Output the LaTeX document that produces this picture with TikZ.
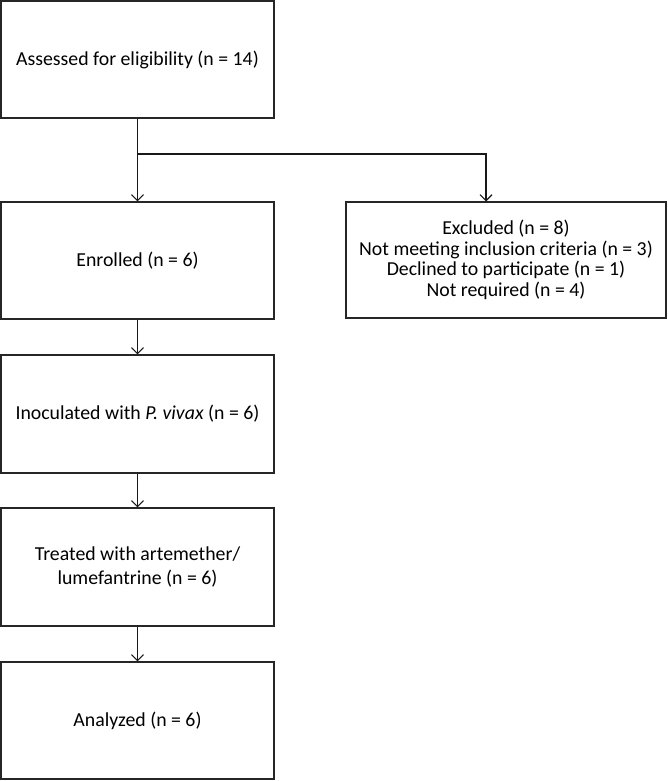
\documentclass[tikz,border=0pt]{standalone}
\usepackage{fontspec}
\setmainfont{Carlito}
\usetikzlibrary{arrows.meta}
\begin{document}
\begin{tikzpicture}[x=1pt,y=-1pt,
  box/.style={draw=black!85, line width=1.3pt, minimum width=273pt, minimum height=117pt,
    inner sep=0pt, align=center, font=\fontsize{19.8}{22}\selectfont},
  arr/.style={draw=black!90, line width=1.2pt, -{Straight Barb[length=6pt,width=12pt,line width=1.1pt]}}]
\useasboundingbox (0,0) rectangle (667,781);
\node[box] (b1) at (137.5,59.5) {Assessed for eligibility (n = 14)};
\node[box] (b2) at (137.5,260.5) {Enrolled (n = 6)};
\node[box, minimum width=320pt, minimum height=116pt, font=\fontsize{19.8}{20.6}\selectfont] (ex) at (506,260)
  {Excluded (n = 8)\\Not meeting inclusion criteria (n = 3)\\Declined to participate (n = 1)\\Not required (n = 4)};
\node[box, minimum height=118pt] (b3) at (137.5,414) {Inoculated with \textit{P. vivax} (n = 6)};
\node[box, minimum height=118pt, font=\fontsize{19.8}{23.3}\selectfont] (b4) at (137.5,567) {Treated with artemether/\\lumefantrine (n = 6)};
\node[box] (b5) at (137.5,720.5) {Analyzed (n = 6)};
\coordinate (br) at (137.5,154);
\coordinate (exin) at (486,201.5);
\draw[arr] (b1.south) -- (b2.north);
\draw[arr] (br) -| (exin);
\draw[arr] (b2.south) -- (b3.north);
\draw[arr] (b3.south) -- (b4.north);
\draw[arr] (b4.south) -- (b5.north);
\end{tikzpicture}
\end{document}
